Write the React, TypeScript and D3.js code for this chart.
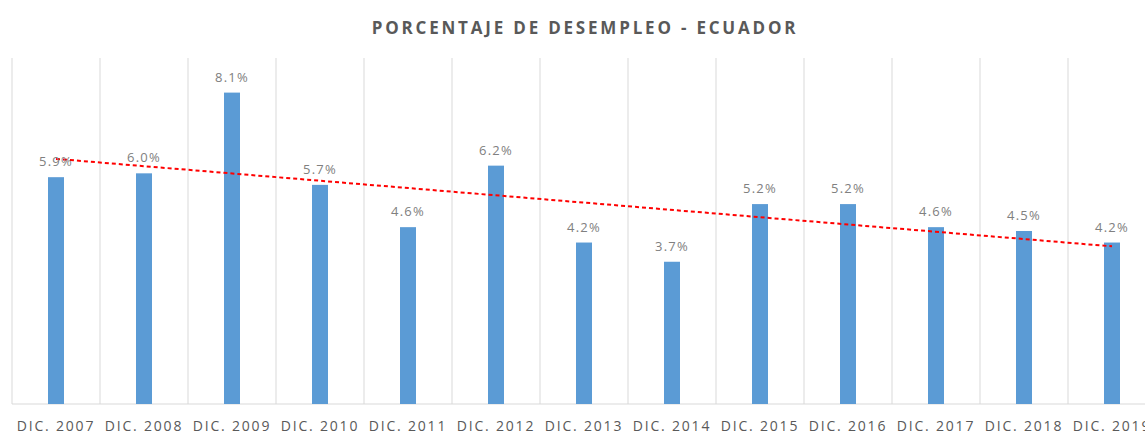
import React, { useRef, useEffect } from 'react';
import * as d3 from 'd3';

const categories = [
  'DIC. 2007', 'DIC. 2008', 'DIC. 2009', 'DIC. 2010', 'DIC. 2011', 'DIC. 2012', 'DIC. 2013',
  'DIC. 2014', 'DIC. 2015', 'DIC. 2016', 'DIC. 2017', 'DIC. 2018', 'DIC. 2019',
];
const desempleo = [5.9, 6.0, 8.1, 5.7, 4.6, 6.2, 4.2, 3.7, 5.2, 5.2, 4.6, 4.5, 4.2];

const title = 'PORCENTAJE DE DESEMPLEO - ECUADOR';

export default function App() {
  const svgRef = useRef<SVGSVGElement>(null);

  useEffect(() => {
    const width = 1145;
    const height = 433;
    const svg = d3.select(svgRef.current);
    svg.selectAll('*').remove();
    svg.attr('width', width).attr('height', height);

    const left = 12;
    const bandW = 88;
    const top = 58;
    const bottom = 404;

    const x = d3.scaleBand<string>()
      .domain(categories)
      .range([left, left + bandW * categories.length])
      .paddingInner(0)
      .paddingOuter(0);

    const y = d3.scaleLinear().domain([0, 9]).range([bottom, top]);

    const font = "'Open Sans', 'DejaVu Sans', sans-serif";

    // Title
    svg.append('text')
      .attr('x', 585)
      .attr('y', 34)
      .attr('text-anchor', 'middle')
      .attr('font-family', font)
      .attr('font-size', 17)
      .attr('font-weight', 700)
      .attr('letter-spacing', 2.8)
      .attr('fill', '#595959')
      .text(title);

    // Vertical grid lines (category separators)
    const edges = categories.map(c => x(c) as number).concat([left + bandW * categories.length]);
    svg.append('g')
      .selectAll('line')
      .data(edges)
      .enter()
      .append('line')
      .attr('x1', d => d)
      .attr('x2', d => d)
      .attr('y1', top)
      .attr('y2', bottom)
      .attr('stroke', '#d9d9d9')
      .attr('stroke-width', 1);

    // Baseline
    svg.append('line')
      .attr('x1', left)
      .attr('x2', width)
      .attr('y1', bottom)
      .attr('y2', bottom)
      .attr('stroke', '#d9d9d9');

    // Bars
    const barW = 16;
    svg.append('g')
      .selectAll('rect')
      .data(desempleo)
      .enter()
      .append('rect')
      .attr('x', (d, i) => (x(categories[i]) as number) + x.bandwidth() / 2 - barW / 2)
      .attr('y', d => y(d))
      .attr('width', barW)
      .attr('height', d => bottom - y(d))
      .attr('fill', '#5b9bd5');

    // Linear trendline
    const n = desempleo.length;
    const xs = desempleo.map((_, i) => i + 1);
    const mx = d3.mean(xs) as number;
    const my = d3.mean(desempleo) as number;
    const sxy = d3.sum(xs, (xi, i) => (xi - mx) * (desempleo[i] - my));
    const sxx = d3.sum(xs, xi => (xi - mx) ** 2);
    const slope = sxy / sxx;
    const intercept = my - slope * mx;
    const cx = (i: number) => (x(categories[i]) as number) + x.bandwidth() / 2;
    svg.append('line')
      .attr('x1', cx(0))
      .attr('y1', y(intercept + slope * 1))
      .attr('x2', cx(n - 1))
      .attr('y2', y(intercept + slope * n))
      .attr('stroke', '#ff0000')
      .attr('stroke-width', 2)
      .attr('stroke-dasharray', '4,3');

    // Data labels
    svg.append('g')
      .selectAll('text')
      .data(desempleo)
      .enter()
      .append('text')
      .attr('x', (d, i) => cx(i))
      .attr('y', d => y(d) - 11)
      .attr('text-anchor', 'middle')
      .attr('font-family', font)
      .attr('font-size', 13)
      .attr('letter-spacing', 1.2)
      .attr('fill', '#808080')
      .text(d => `${d.toFixed(1)}%`);

    // X axis labels
    svg.append('g')
      .selectAll('text')
      .data(categories)
      .enter()
      .append('text')
      .attr('x', (d, i) => cx(i))
      .attr('y', 431)
      .attr('text-anchor', 'middle')
      .attr('font-family', font)
      .attr('font-size', 14)
      .attr('letter-spacing', 1.8)
      .attr('fill', '#595959')
      .text(d => d);
  }, []);

  return (
    <div style={{ position: 'absolute', left: 0, top: 0, width: 1145, height: 433, overflow: 'hidden', background: '#fff' }}>
      <svg ref={svgRef} style={{ display: 'block' }}></svg>
    </div>
  );
}
